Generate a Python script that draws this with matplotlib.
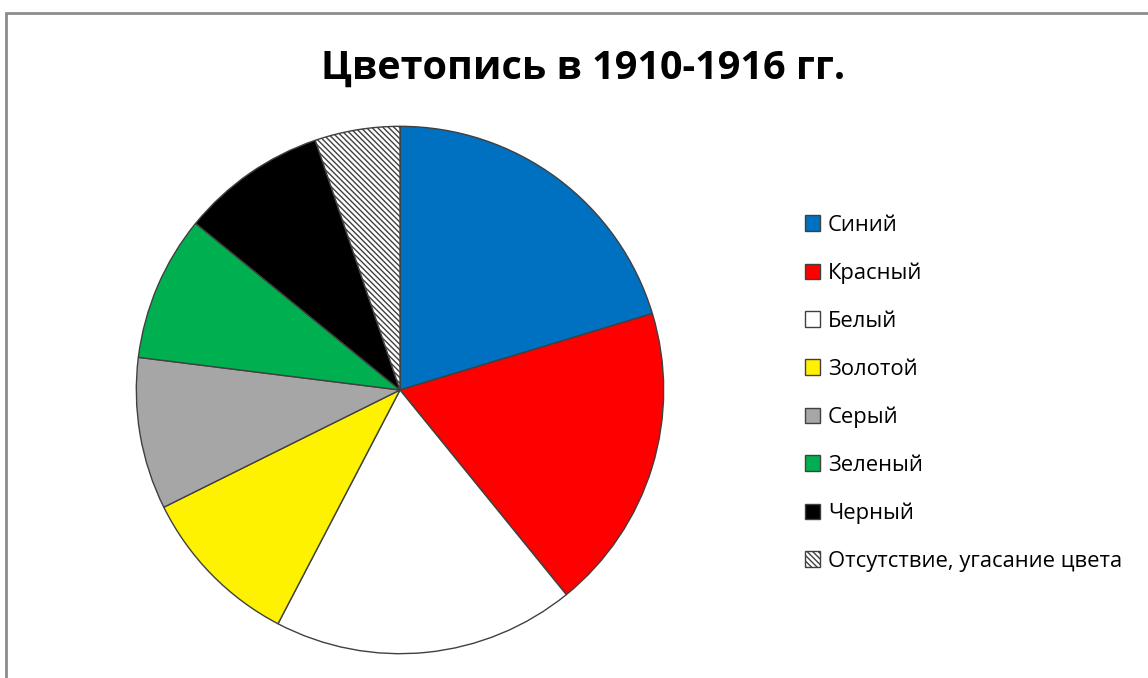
import matplotlib
matplotlib.use("Agg")
import matplotlib.pyplot as plt
from matplotlib.patches import Rectangle

plt.rcParams['font.family'] = ['Open Sans', 'DejaVu Sans']
plt.rcParams['hatch.linewidth'] = 1.0

# данные (оценка по картинке, в процентах)
labels = ["Синий", "Красный", "Белый", "Золотой", "Серый", "Зеленый", "Черный",
          "Отсутствие, угасание цвета"]
values = [20.3, 18.8, 18.5, 10.0, 9.3, 8.9, 8.9, 5.2]
colors = ["#0070C0", "#FF0000", "#FFFFFF", "#FFF200", "#A6A6A6", "#00B050", "#000000", "#FFFFFF"]
hatches = [None, None, None, None, None, None, None, "\\\\\\\\\\\\"]

fig = plt.figure(figsize=(11.48, 6.78), dpi=100)

# серая рамка области диаграммы
fig.patches.append(Rectangle((6 / 1148, -0.01), 1.0, 1 - 13 / 678 + 0.01,
                             transform=fig.transFigure, fill=False,
                             edgecolor="#8C8C8C", linewidth=2))

ax = fig.add_axes([135 / 1148, 23 / 678, 530 / 1148, 530 / 678])
wedges, _ = ax.pie(values, colors=colors, startangle=90, counterclock=False,
                   wedgeprops=dict(edgecolor="#404040", linewidth=1))
for w, h in zip(wedges, hatches):
    if h:
        w.set_hatch(h)
ax.set_xlim(-1.005, 1.005)
ax.set_ylim(-1.005, 1.005)
ax.set_aspect("equal")
ax.axis("off")

fig.text(583 / 1148, 1 - 68 / 678, "Цветопись в 1910-1916 гг.", ha="center", va="center",
         fontsize=28.5, fontweight="bold")

fig.legend(wedges, labels, loc="upper left", bbox_to_anchor=(796 / 1148, 1 - 206 / 678),
           frameon=False, fontsize=15.8, labelspacing=1.22, handlelength=0.7,
           handleheight=0.7, handletextpad=0.35, borderaxespad=0)

fig.savefig("out.png", dpi=100)
